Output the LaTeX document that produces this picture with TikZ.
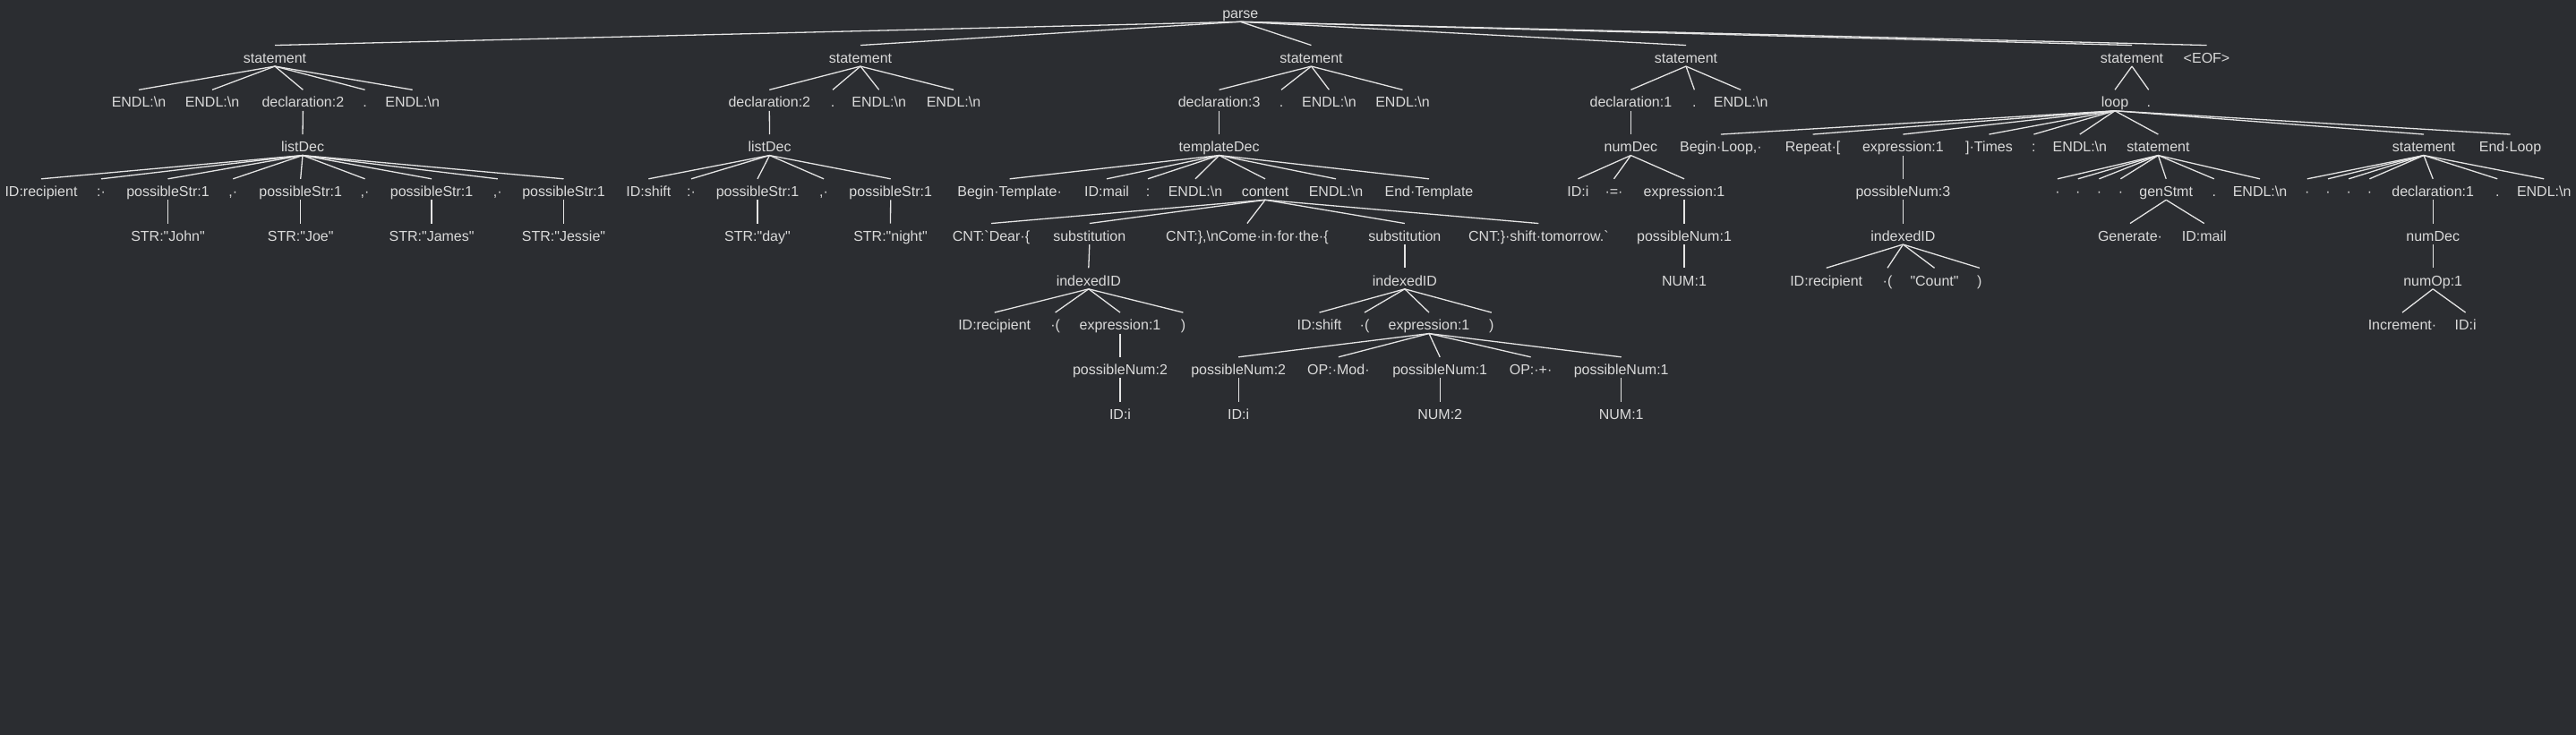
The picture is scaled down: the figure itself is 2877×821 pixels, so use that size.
\documentclass[tikz,border=0pt]{standalone}
\usepackage{fontspec}
\setmainfont{Liberation Sans}[Ligatures=TeXOff]
\definecolor{bgc}{RGB}{43,45,49}
\definecolor{txtc}{RGB}{218,218,218}
\definecolor{edgec}{RGB}{228,228,228}
\newcommand\TN[4]{\node[lbl] (#1) at (#2,{20.5+49.75*#3}) {#4};}
\newcommand\TE[2]{\draw[edge] ([yshift=-3.8pt]#1.base) -- ([yshift=19.7pt]#2.base);}
\newcommand\TEs[2]{\foreach \cc in {#2} {\TE{#1}{\cc}}}
\newcommand\bs{\textbackslash}
\begin{document}
\begin{tikzpicture}[x=1pt,y=-1pt,
  lbl/.style={anchor=base,inner sep=0pt,text=txtc,font=\fontsize{16}{19}\selectfont},
  edge/.style={draw=edgec,line width=1.3pt}]
\fill[bgc] (0,0) rectangle (2877,821);
\useasboundingbox (0,0) rectangle (2877,821);
% row 0/1
\TN{parse}{1385.3}{0}{parse}
\TN{s1}{307}{1}{statement}
\TN{s2}{961}{1}{statement}
\TN{s3}{1464.5}{1}{statement}
\TN{s4}{1883}{1}{statement}
\TN{s5}{2381}{1}{statement}
\TN{eof}{2464.5}{1}{<EOF>}
% S1
\TN{a1}{155}{2}{ENDL:\bs n}
\TN{a2}{237}{2}{ENDL:\bs n}
\TN{a3}{338.4}{2}{declaration:2}
\TN{a4}{407.6}{2}{.}
\TN{a5}{460.7}{2}{ENDL:\bs n}
\TN{a3l}{338}{3}{listDec}
\TN{b1}{46}{4}{ID:recipient}
\TN{b2}{113}{4}{:·}
\TN{b3}{187.5}{4}{possibleStr:1}
\TN{b4}{260.3}{4}{,·}
\TN{b5}{335.7}{4}{possibleStr:1}
\TN{b6}{407.6}{4}{,·}
\TN{b7}{482.1}{4}{possibleStr:1}
\TN{b8}{555.8}{4}{,·}
\TN{b9}{629.5}{4}{possibleStr:1}
\TN{c1}{187.5}{5}{STR:"John"}
\TN{c2}{335.7}{5}{STR:"Joe"}
\TN{c3}{482.1}{5}{STR:"James"}
\TN{c4}{629.5}{5}{STR:"Jessie"}
% S2
\TN{d1}{859.3}{2}{declaration:2}
\TN{d2}{930}{2}{.}
\TN{d3}{981.7}{2}{ENDL:\bs n}
\TN{d4}{1065}{2}{ENDL:\bs n}
\TN{d1l}{859.5}{3}{listDec}
\TN{e1}{724.3}{4}{ID:shift}
\TN{e2}{772}{4}{:·}
\TN{e3}{846}{4}{possibleStr:1}
\TN{e4}{920}{4}{,·}
\TN{e5}{994.7}{4}{possibleStr:1}
\TN{f1}{846}{5}{STR:"day"}
\TN{f2}{994.5}{5}{STR:"night"}
% S3
\TN{g1}{1361.6}{2}{declaration:3}
\TN{g2}{1431}{2}{.}
\TN{g3}{1484.4}{2}{ENDL:\bs n}
\TN{g4}{1566.5}{2}{ENDL:\bs n}
\TN{t}{1361.6}{3}{templateDec}
\TN{h1}{1127.6}{4}{Begin·Template·}
\TN{h2}{1236}{4}{ID:mail}
\TN{h3}{1282}{4}{:}
\TN{h4}{1335}{4}{ENDL:\bs n}
\TN{h5}{1413}{4}{content}
\TN{h6}{1492}{4}{ENDL:\bs n}
\TN{h7}{1596}{4}{End·Template}
\TN{i1}{1107}{5}{CNT:`Dear·\{}
\TN{i2}{1216.8}{5}{substitution}
\TN{i3}{1392.9}{5}{CNT:\},\bs nCome·in·for·the·\{}
\TN{i4}{1568.9}{5}{substitution}
\TN{i5}{1718.4}{5}{CNT:\}·shift·tomorrow.`}
\TN{j1}{1215.8}{6}{indexedID}
\TN{j2}{1568.9}{6}{indexedID}
\TN{k1}{1110.7}{7}{ID:recipient}
\TN{k2}{1178.6}{7}{·(}
\TN{k3}{1251}{7}{expression:1}
\TN{k4}{1321.4}{7}{)}
\TN{l1}{1473.5}{7}{ID:shift}
\TN{l2}{1524}{7}{·(}
\TN{l3}{1596}{7}{expression:1}
\TN{l4}{1665.8}{7}{)}
\TN{m1}{1251}{8}{possibleNum:2}
\TN{n1}{1383.2}{8}{possibleNum:2}
\TN{n2}{1494.9}{8}{OP:·Mod·}
\TN{n3}{1608.2}{8}{possibleNum:1}
\TN{n4}{1709.6}{8}{OP:·+·}
\TN{n5}{1810.7}{8}{possibleNum:1}
\TN{o1}{1251}{9}{ID:i}
\TN{p1}{1383.2}{9}{ID:i}
\TN{p3}{1608.2}{9}{NUM:2}
\TN{p5}{1810.7}{9}{NUM:1}
% S4
\TN{q1}{1821.4}{2}{declaration:1}
\TN{q2}{1892.4}{2}{.}
\TN{q3}{1944.2}{2}{ENDL:\bs n}
\TN{q1n}{1821.4}{3}{numDec}
\TN{r1}{1762.4}{4}{ID:i}
\TN{r2}{1802.5}{4}{·=·}
\TN{r3}{1881}{4}{expression:1}
\TN{r3p}{1881}{5}{possibleNum:1}
\TN{r3n}{1881}{6}{NUM:1}
% S5
\TN{lp}{2362}{2}{loop}
\TN{sdot}{2399.7}{2}{.}
\TN{u1}{1921.9}{3}{Begin·Loop,·}
\TN{u2}{2024.6}{3}{Repeat·[}
\TN{u3}{2125.4}{3}{expression:1}
\TN{u4}{2221.4}{3}{]·Times}
\TN{u5}{2271.4}{3}{:}
\TN{u6}{2322.8}{3}{ENDL:\bs n}
\TN{u7}{2410.4}{3}{statement}
\TN{u8}{2707}{3}{statement}
\TN{u9}{2803.5}{3}{End·Loop}
\TN{u3p}{2125.4}{4}{possibleNum:3}
\TN{u3i}{2125.4}{5}{indexedID}
\TN{v1}{2039.7}{6}{ID:recipient}
\TN{v2}{2108}{6}{·(}
\TN{v3}{2160.5}{6}{"Count"}
\TN{v4}{2210.8}{6}{)}
\TN{w1}{2298}{4}{·}
\TN{w2}{2320.8}{4}{·}
\TN{w3}{2344.4}{4}{·}
\TN{w4}{2368.4}{4}{·}
\TN{w5}{2419.2}{4}{genStmt}
\TN{w6}{2472.8}{4}{.}
\TN{w7}{2524}{4}{ENDL:\bs n}
\TN{x1}{2379}{5}{Generate·}
\TN{x2}{2461.7}{5}{ID:mail}
\TN{y1}{2576.8}{4}{·}
\TN{y2}{2600}{4}{·}
\TN{y3}{2623.2}{4}{·}
\TN{y4}{2646.4}{4}{·}
\TN{y5}{2717.2}{4}{declaration:1}
\TN{y6}{2789.2}{4}{.}
\TN{y7}{2841.2}{4}{ENDL:\bs n}
\TN{y5n}{2717.2}{5}{numDec}
\TN{y5o}{2717.2}{6}{numOp:1}
\TN{z1}{2683}{7}{Increment·}
\TN{z2}{2753.6}{7}{ID:i}
% edges
\TEs{parse}{s1,s2,s3,s4,s5,eof}
\TEs{s1}{a1,a2,a3,a4,a5}
\TE{a3}{a3l}
\TEs{a3l}{b1,b2,b3,b4,b5,b6,b7,b8,b9}
\TE{b3}{c1}\TE{b5}{c2}\TE{b7}{c3}\TE{b9}{c4}
\TEs{s2}{d1,d2,d3,d4}
\TE{d1}{d1l}
\TEs{d1l}{e1,e2,e3,e4,e5}
\TE{e3}{f1}\TE{e5}{f2}
\TEs{s3}{g1,g2,g3,g4}
\TE{g1}{t}
\TEs{t}{h1,h2,h3,h4,h5,h6,h7}
\TEs{h5}{i1,i2,i3,i4,i5}
\TE{i2}{j1}\TE{i4}{j2}
\TEs{j1}{k1,k2,k3,k4}
\TE{k3}{m1}\TE{m1}{o1}
\TEs{j2}{l1,l2,l3,l4}
\TEs{l3}{n1,n2,n3,n4,n5}
\TE{n1}{p1}\TE{n3}{p3}\TE{n5}{p5}
\TEs{s4}{q1,q2,q3}
\TE{q1}{q1n}
\TEs{q1n}{r1,r2,r3}
\TE{r3}{r3p}\TE{r3p}{r3n}
\TEs{s5}{lp,sdot}
\TEs{lp}{u1,u2,u3,u4,u5,u6,u7,u8,u9}
\TE{u3}{u3p}\TE{u3p}{u3i}
\TEs{u3i}{v1,v2,v3,v4}
\TEs{u7}{w1,w2,w3,w4,w5,w6,w7}
\TEs{w5}{x1,x2}
\TEs{u8}{y1,y2,y3,y4,y5,y6,y7}
\TE{y5}{y5n}\TE{y5n}{y5o}
\TEs{y5o}{z1,z2}
\end{tikzpicture}
\end{document}
